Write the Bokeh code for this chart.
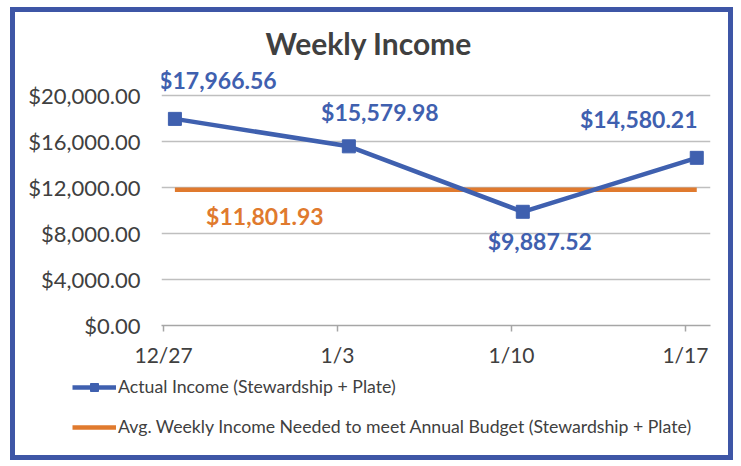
from bokeh.plotting import figure
from bokeh.layouts import column
from bokeh.models import (ColumnDataSource, FixedTicker, Range1d, Legend, LegendItem,
                          NumeralTickFormatter)
from bokeh.transform import dodge
from bokeh.core.properties import value
from bokeh.embed import file_html
from bokeh.resources import INLINE

# ---- data ----
weeks = ["12/27", "1/3", "1/10", "1/17"]
actual_income = [17966.56, 15579.98, 9887.52, 14580.21]
budget_needed = 11801.93
y_ticks = [0, 4000, 8000, 12000, 16000, 20000]
series_names = ["Actual Income (Stewardship + Plate)",
                "Avg. Weekly Income Needed to meet Annual Budget (Stewardship + Plate)"]

BLUE = "#3F60AF"
ORANGE = "#E07A2E"
GRAY_TXT = "#404040"
FONT = "Lato"

idx = list(range(len(weeks)))
src = ColumnDataSource(dict(
    x=idx,
    y=actual_income,
    budget=[budget_needed] * len(weeks),
    label=[f"${v:,.2f}" for v in actual_income],
    dx=[43, 31, 17, -58],
    dy=[-39, -34, 29, -39],
))

p = figure(width=723, height=362, output_backend="svg", toolbar_location=None,
           x_range=Range1d(-0.012, 3.144), y_range=Range1d(0, 22870),
           min_border_left=151, min_border_right=23, min_border_top=55,
           min_border_bottom=44)
p.frame_align = False
p.border_fill_color = None
p.background_fill_color = None
p.outline_line_color = None

# title
p.title.text = "Weekly Income"
p.title.align = "left"
p.title.offset = 104
p.title.standoff = 4
p.title.text_font = FONT
p.title.text_font_size = "30px"
p.title.text_font_style = "bold"
p.title.text_color = GRAY_TXT

# axes
p.yaxis.ticker = FixedTicker(ticks=y_ticks)
p.yaxis.formatter = NumeralTickFormatter(format="$0,0.00")
p.yaxis.axis_line_color = None
p.yaxis.major_tick_line_color = None
p.yaxis.major_tick_out = 0
p.yaxis.major_tick_in = 0
p.yaxis.minor_tick_line_color = None
p.yaxis.major_label_standoff = 21
p.yaxis.major_label_text_font = FONT
p.yaxis.major_label_text_font_size = "22px"
p.yaxis.major_label_text_color = GRAY_TXT

p.xaxis.ticker = FixedTicker(ticks=idx)
p.xaxis.major_label_overrides = {i: w for i, w in zip(idx, weeks)}
p.xaxis.axis_line_color = "#A6A6A6"
p.xaxis.axis_line_width = 1.5
p.xaxis.major_tick_line_color = "#A6A6A6"
p.xaxis.major_tick_line_width = 1.5
p.xaxis.major_tick_out = 6
p.xaxis.major_tick_in = 0
p.xaxis.minor_tick_line_color = None
p.xaxis.major_label_standoff = 10
p.xaxis.major_label_text_font = FONT
p.xaxis.major_label_text_font_size = "21px"
p.xaxis.major_label_text_color = GRAY_TXT

p.xgrid.grid_line_color = None
p.ygrid.ticker = FixedTicker(ticks=y_ticks)
p.ygrid.grid_line_color = "#BFBFBF"
p.ygrid.grid_line_width = 1.5

xd = dodge("x", 0.065)

p.line(x=xd, y="budget", source=src, line_color=ORANGE, line_width=4.5)
p.line(x=xd, y="y", source=src, line_color=BLUE, line_width=4.5)
p.scatter(x=xd, y="y", source=src, marker="square", size=13,
          fill_color=BLUE, line_color=BLUE)

p.text(x=xd, y="y", text="label", source=src, x_offset="dx", y_offset="dy",
       text_font=value(FONT), text_font_size="23px", text_font_style="bold",
       text_color=BLUE, text_align="center", text_baseline="middle")

bsrc = ColumnDataSource(dict(x=[idx[0]], y=[budget_needed],
                             label=[f"${budget_needed:,.2f}"]))
p.text(x=dodge("x", 0.065), y="y", text="label", source=bsrc, x_offset=90, y_offset=26,
       text_font=value(FONT), text_font_size="23px", text_font_style="bold",
       text_color=ORANGE, text_align="center", text_baseline="middle")

# ---- legend strip (separate figure below); its ranges keep the series out of view ----
pl = figure(width=723, height=91, output_backend="svg", toolbar_location=None,
            x_range=Range1d(0, 1), y_range=Range1d(0, 1),
            min_border=0, min_border_left=0, min_border_right=0,
            min_border_top=0, min_border_bottom=0)
pl.frame_align = False
pl.axis.visible = False
pl.grid.visible = False
pl.outline_line_color = None
pl.border_fill_color = None
pl.background_fill_color = None
ll1 = pl.line(x="x", y="y", source=src, line_color=BLUE, line_width=4.5)
ls1 = pl.scatter(x="x", y="y", source=src, marker="square", size=12,
                 fill_color=BLUE, line_color=BLUE)
ll2 = pl.line(x="x", y="budget", source=src, line_color=ORANGE, line_width=4.5)

legend = Legend(items=[
    LegendItem(label=series_names[0], renderers=[ll1, ls1]),
    LegendItem(label=series_names[1], renderers=[ll2]),
], location=(62, 23))
legend.background_fill_alpha = 0
legend.border_line_color = None
legend.padding = 0
legend.margin = 0
legend.spacing = 19
legend.glyph_width = 44
legend.glyph_height = 20
legend.label_height = 20
legend.label_standoff = 2
legend.label_text_font = FONT
legend.label_text_font_size = "17.7px"
legend.label_text_color = GRAY_TXT
pl.add_layout(legend)

layout = column(p, pl, spacing=0)
layout.styles = {"box-shadow": "inset 0 0 0 5px #3E56A6",
                 "margin-left": "10px", "margin-top": "7px"}

open("out.html", "w").write(file_html(layout, INLINE))
